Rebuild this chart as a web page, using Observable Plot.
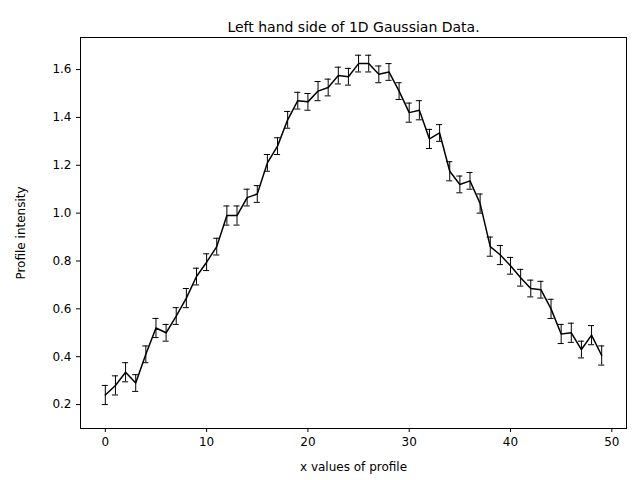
<!DOCTYPE html>
<html>
<head>
<meta charset="utf-8">
<script src="https://cdn.jsdelivr.net/npm/d3@7"></script>
<script src="https://cdn.jsdelivr.net/npm/@observablehq/plot@0.6"></script>
<style>
  body { margin: 0; background: #fff; }
</style>
</head>
<body>
<div id="chart"></div>
<script>
const xs = d3.range(0, 50);
const intensity = [0.24, 0.28, 0.335, 0.29, 0.41, 0.52, 0.50, 0.57, 0.645, 0.735,
  0.795, 0.86, 0.99, 0.99, 1.065, 1.08, 1.21, 1.28, 1.39, 1.47,
  1.465, 1.51, 1.525, 1.575, 1.57, 1.625, 1.625, 1.58, 1.59, 1.51,
  1.42, 1.43, 1.31, 1.335, 1.175, 1.12, 1.135, 1.04, 0.86, 0.825,
  0.78, 0.73, 0.685, 0.68, 0.60, 0.495, 0.50, 0.43, 0.49, 0.405];
const errors = [0.04, 0.04, 0.04, 0.035, 0.035, 0.04, 0.035, 0.035, 0.04, 0.035,
  0.035, 0.035, 0.04, 0.04, 0.035, 0.035, 0.035, 0.035, 0.035, 0.035,
  0.035, 0.04, 0.035, 0.035, 0.035, 0.035, 0.035, 0.035, 0.035, 0.035,
  0.04, 0.04, 0.04, 0.035, 0.04, 0.035, 0.035, 0.04, 0.04, 0.04,
  0.035, 0.035, 0.035, 0.035, 0.04, 0.04, 0.04, 0.035, 0.04, 0.04];

const cap = 0.3; // half cap width in x units
const data = xs.map((x, i) => ({x, y: intensity[i], lo: intensity[i] - errors[i], hi: intensity[i] + errors[i], xl: x - cap, xr: x + cap}));

const plot = Plot.plot({
  width: 640,
  height: 480,
  marginLeft: 80,
  marginRight: 14,
  marginTop: 37,
  marginBottom: 52,
  style: {fontFamily: "DejaVu Sans, sans-serif", fontSize: "12px", color: "#000"},
  x: {domain: [-2.45, 51.45], ticks: [0, 10, 20, 30, 40, 50], tickSize: 4, label: "x values of profile", labelAnchor: "center", labelArrow: "none", labelOffset: 42},
  y: {domain: [0.1, 1.734], ticks: d3.range(0.2, 1.61, 0.2), tickFormat: d3.format(".1f"), tickSize: 4, label: "Profile intensity", labelAnchor: "center", labelArrow: "none", labelOffset: 64},
  marks: [
    Plot.frame({stroke: "#000"}),
    Plot.ruleX(data, {x: "x", y1: "lo", y2: "hi", stroke: "#000", strokeWidth: 1}),
    Plot.ruleY(data, {y: "lo", x1: "xl", x2: "xr", stroke: "#000"}),
    Plot.ruleY(data, {y: "hi", x1: "xl", x2: "xr", stroke: "#000"}),
    Plot.line(data, {x: "x", y: "y", stroke: "#000", strokeWidth: 1.5}),
    Plot.text(["Left hand side of 1D Gaussian Data."], {frameAnchor: "top", dy: -15, fontSize: 14, fill: "#000"})
  ]
});

document.getElementById("chart").append(plot);
</script>
</body>
</html>
